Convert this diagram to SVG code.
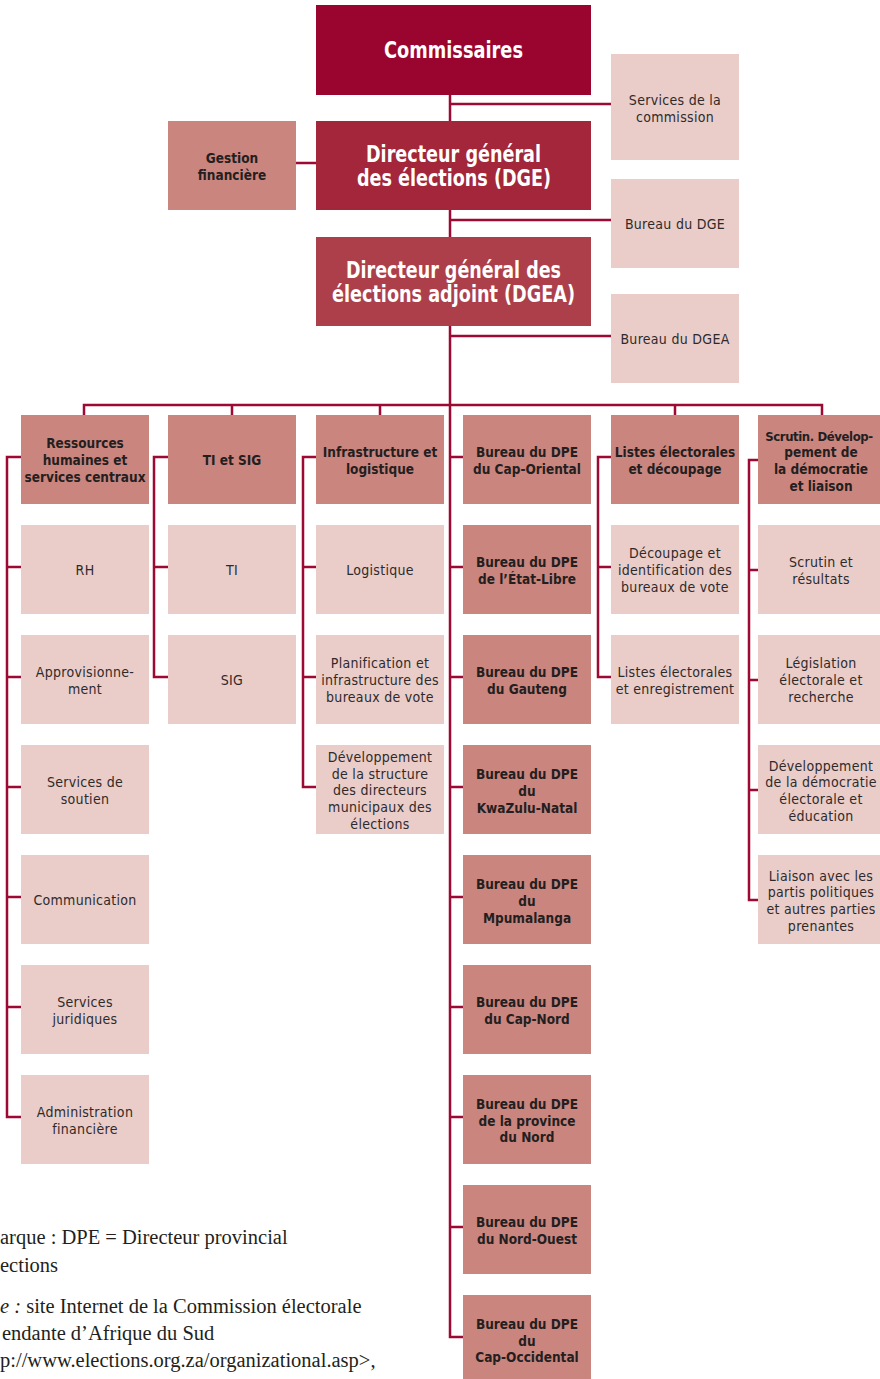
<svg xmlns="http://www.w3.org/2000/svg" width="880" height="1379" viewBox="0 0 880 1379">
<style>
.c{fill:none;stroke:#9c0a34;stroke-width:2.5}
.top1{fill:#9a0530}.top2{fill:#a3263b}.top3{fill:#ad3f4b}
.md{fill:#cb857f}.lt{fill:#eacdc8}
text{font-family:"DejaVu Sans Condensed","Liberation Sans",sans-serif;text-anchor:middle}
.big{font-size:23px;font-weight:bold;fill:#ffffff}
.hd{font-size:13.5px;font-weight:bold;fill:#231f20}
.tx{font-size:14px;fill:#2e2a2b;letter-spacing:0.3px}
.fn{font-family:"Liberation Serif",serif;font-size:20.5px;fill:#231f20;text-anchor:start}
</style>
<rect width="880" height="1379" fill="#ffffff"/>
<g id="connectors">
<path class="c" d="M450 95V1337H463M450 104H611M450 220H611M450 336H611M296 163H316"/>
<path class="c" d="M84 415V405H822V415M232 405V415M380 405V415M675 405V415"/>
<path class="c" d="M21 457H7V1117H21M7 567H21M7 677H21M7 787H21M7 897H21M7 1007H21"/>
<path class="c" d="M168 457H154V677H168M154 567H168"/>
<path class="c" d="M316 457H303V787H316M303 567H316M303 677H316"/>
<path class="c" d="M450 457H463M450 567H463M450 677H463M450 787H463M450 897H463M450 1007H463M450 1117H463M450 1227H463"/>
<path class="c" d="M611 457H598V677H611M598 567H611"/>
<path class="c" d="M758 460H749V900H758M749 570H758M749 680H758M749 790H758"/>
</g>
<g id="commissaires"><rect class="top1" x="316" y="5" width="275" height="90"/><text class="big" x="453.5" y="58" textLength="139" lengthAdjust="spacingAndGlyphs">Commissaires</text></g>
<g id="services-commission"><rect class="lt" x="611" y="54" width="128" height="106"/><text class="tx" x="675" y="105">Services de la</text><text class="tx" x="675" y="122">commission</text></g>
<g id="gestion"><rect class="md" x="168" y="121" width="128" height="89"/><text class="hd" x="232" y="163">Gestion</text><text class="hd" x="232" y="180">financière</text></g>
<g id="dge"><rect class="top2" x="316" y="121" width="275" height="89"/><text class="big" x="453.5" y="162" textLength="175" lengthAdjust="spacingAndGlyphs">Directeur général</text><text class="big" x="454" y="186" textLength="194" lengthAdjust="spacingAndGlyphs">des élections (DGE)</text></g>
<g id="bureau-dge"><rect class="lt" x="611" y="179" width="128" height="89"/><text class="tx" x="675" y="229">Bureau du DGE</text></g>
<g id="dgea"><rect class="top3" x="316" y="237" width="275" height="89"/><text class="big" x="453.5" y="278" textLength="215" lengthAdjust="spacingAndGlyphs">Directeur général des</text><text class="big" x="453.5" y="302" textLength="243" lengthAdjust="spacingAndGlyphs">élections adjoint (DGEA)</text></g>
<g id="bureau-dgea"><rect class="lt" x="611" y="294" width="128" height="89"/><text class="tx" x="675" y="344">Bureau du DGEA</text></g>

<g id="rh-sc"><rect class="md" x="21" y="415" width="128" height="89"/><text class="hd" x="85" y="448">Ressources</text><text class="hd" x="85" y="465">humaines et</text><text class="hd" x="85" y="482">services centraux</text></g>
<g id="rh"><rect class="lt" x="21" y="525" width="128" height="89"/><text class="tx" x="85" y="575">RH</text></g>
<g id="approv"><rect class="lt" x="21" y="635" width="128" height="89"/><text class="tx" x="85" y="677">Approvisionne-</text><text class="tx" x="85" y="694">ment</text></g>
<g id="soutien"><rect class="lt" x="21" y="745" width="128" height="89"/><text class="tx" x="85" y="787">Services de</text><text class="tx" x="85" y="804">soutien</text></g>
<g id="communication"><rect class="lt" x="21" y="855" width="128" height="89"/><text class="tx" x="85" y="905">Communication</text></g>
<g id="juridiques"><rect class="lt" x="21" y="965" width="128" height="89"/><text class="tx" x="85" y="1007">Services</text><text class="tx" x="85" y="1024">juridiques</text></g>
<g id="admin-fin"><rect class="lt" x="21" y="1075" width="128" height="89"/><text class="tx" x="85" y="1117">Administration</text><text class="tx" x="85" y="1134">financière</text></g>

<g id="ti-sig"><rect class="md" x="168" y="415" width="128" height="89"/><text class="hd" x="232" y="465">TI et SIG</text></g>
<g id="ti"><rect class="lt" x="168" y="525" width="128" height="89"/><text class="tx" x="232" y="575">TI</text></g>
<g id="sig"><rect class="lt" x="168" y="635" width="128" height="89"/><text class="tx" x="232" y="685">SIG</text></g>

<g id="infra"><rect class="md" x="316" y="415" width="128" height="89"/><text class="hd" x="380" y="457">Infrastructure et</text><text class="hd" x="380" y="474">logistique</text></g>
<g id="logistique"><rect class="lt" x="316" y="525" width="128" height="89"/><text class="tx" x="380" y="575">Logistique</text></g>
<g id="planif"><rect class="lt" x="316" y="635" width="128" height="89"/><text class="tx" x="380" y="668">Planification et</text><text class="tx" x="380" y="685">infrastructure des</text><text class="tx" x="380" y="702">bureaux de vote</text></g>
<g id="dev-struct"><rect class="lt" x="316" y="745" width="128" height="89"/><text class="tx" x="380" y="762">Développement</text><text class="tx" x="380" y="779">de la structure</text><text class="tx" x="380" y="795">des directeurs</text><text class="tx" x="380" y="812">municipaux des</text><text class="tx" x="380" y="829">élections</text></g>

<g id="dpe-cap-oriental"><rect class="md" x="463" y="415" width="128" height="89"/><text class="hd" x="527" y="457">Bureau du DPE</text><text class="hd" x="527" y="474">du Cap-Oriental</text></g>
<g id="dpe-etat-libre"><rect class="md" x="463" y="525" width="128" height="89"/><text class="hd" x="527" y="567">Bureau du DPE</text><text class="hd" x="527" y="584">de l’État-Libre</text></g>
<g id="dpe-gauteng"><rect class="md" x="463" y="635" width="128" height="89"/><text class="hd" x="527" y="677">Bureau du DPE</text><text class="hd" x="527" y="694">du Gauteng</text></g>
<g id="dpe-kzn"><rect class="md" x="463" y="745" width="128" height="89"/><text class="hd" x="527" y="779">Bureau du DPE</text><text class="hd" x="527" y="796">du</text><text class="hd" x="527" y="813">KwaZulu-Natal</text></g>
<g id="dpe-mpumalanga"><rect class="md" x="463" y="855" width="128" height="89"/><text class="hd" x="527" y="889">Bureau du DPE</text><text class="hd" x="527" y="906">du</text><text class="hd" x="527" y="923">Mpumalanga</text></g>
<g id="dpe-cap-nord"><rect class="md" x="463" y="965" width="128" height="89"/><text class="hd" x="527" y="1007">Bureau du DPE</text><text class="hd" x="527" y="1024">du Cap-Nord</text></g>
<g id="dpe-nord"><rect class="md" x="463" y="1075" width="128" height="89"/><text class="hd" x="527" y="1109">Bureau du DPE</text><text class="hd" x="527" y="1126">de la province</text><text class="hd" x="527" y="1142">du Nord</text></g>
<g id="dpe-nord-ouest"><rect class="md" x="463" y="1185" width="128" height="89"/><text class="hd" x="527" y="1227">Bureau du DPE</text><text class="hd" x="527" y="1244">du Nord-Ouest</text></g>
<g id="dpe-cap-occidental"><rect class="md" x="463" y="1295" width="128" height="84"/><text class="hd" x="527" y="1329">Bureau du DPE</text><text class="hd" x="527" y="1346">du</text><text class="hd" x="527" y="1362">Cap-Occidental</text></g>

<g id="listes"><rect class="md" x="611" y="415" width="128" height="89"/><text class="hd" x="675" y="457">Listes électorales</text><text class="hd" x="675" y="474">et découpage</text></g>
<g id="decoupage"><rect class="lt" x="611" y="525" width="128" height="89"/><text class="tx" x="675" y="558">Découpage et</text><text class="tx" x="675" y="575">identification des</text><text class="tx" x="675" y="592">bureaux de vote</text></g>
<g id="listes-enreg"><rect class="lt" x="611" y="635" width="128" height="89"/><text class="tx" x="675" y="677">Listes électorales</text><text class="tx" x="675" y="694">et enregistrement</text></g>

<g id="scrutin-dev"><rect class="md" x="758" y="415" width="122" height="89"/><text class="hd" x="819" y="441" style="font-size:13px;letter-spacing:-0.4px">Scrutin. Dévelop-</text><text class="hd" x="821" y="457">pement de</text><text class="hd" x="821" y="474">la démocratie</text><text class="hd" x="821" y="491">et liaison</text></g>
<g id="scrutin-res"><rect class="lt" x="758" y="525" width="122" height="89"/><text class="tx" x="821" y="567">Scrutin et</text><text class="tx" x="821" y="584">résultats</text></g>
<g id="legislation"><rect class="lt" x="758" y="635" width="122" height="89"/><text class="tx" x="821" y="668">Législation</text><text class="tx" x="821" y="685">électorale et</text><text class="tx" x="821" y="702">recherche</text></g>
<g id="dev-democratie"><rect class="lt" x="758" y="745" width="122" height="89"/><text class="tx" x="821" y="771">Développement</text><text class="tx" x="821" y="787">de la démocratie</text><text class="tx" x="821" y="804">électorale et</text><text class="tx" x="821" y="821">éducation</text></g>
<g id="liaison"><rect class="lt" x="758" y="855" width="122" height="89"/><text class="tx" x="821" y="881">Liaison avec les</text><text class="tx" x="821" y="897">partis politiques</text><text class="tx" x="821" y="914">et autres parties</text><text class="tx" x="821" y="931">prenantes</text></g>

<g id="footnote">
<text class="fn" x="0" y="1244">arque : DPE = Directeur provincial</text>
<text class="fn" x="0" y="1272">ections</text>
<text class="fn" x="0" y="1313"><tspan font-style="italic">e :</tspan> site Internet de la Commission électorale</text>
<text class="fn" x="2" y="1340">endante d’Afrique du Sud</text>
<text class="fn" x="0" y="1367">p://www.elections.org.za/organizational.asp&gt;,</text>
</g>
</svg>
